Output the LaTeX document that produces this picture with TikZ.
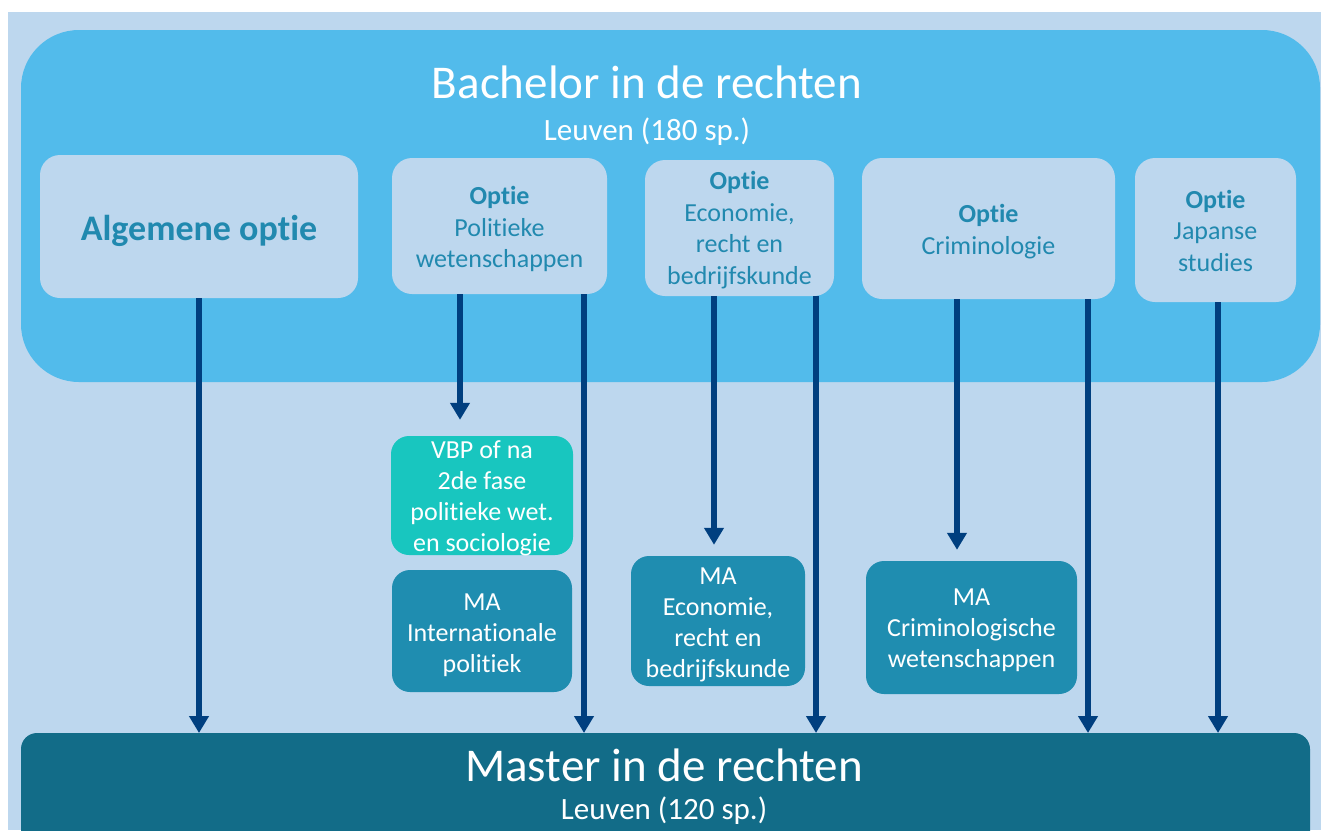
\documentclass[tikz,border=0pt]{standalone}
\usepackage{fontspec}
\setmainfont{Carlito}[Ligatures=NoCommon]
\usetikzlibrary{arrows.meta}
\definecolor{bgc}{HTML}{BDD7EE}
\definecolor{bach}{HTML}{52BBEB}
\definecolor{optfill}{HTML}{BDD7EE}
\definecolor{opttext}{HTML}{2189AF}
\definecolor{arrc}{HTML}{003F7F}
\definecolor{vbpc}{HTML}{18C6BF}
\definecolor{mac}{HTML}{1F8DB0}
\definecolor{masterc}{HTML}{126C88}
\begin{document}
\begin{tikzpicture}[x=1pt,y=-1pt,
  optbox/.style={fill=optfill, rounded corners=20pt, inner sep=0pt},
  opttxt/.style={text=opttext, align=center, inner sep=0pt, font=\fontsize{26}{31.5}\selectfont},
  mabox/.style={fill=mac, rounded corners=18pt, inner sep=0pt},
  matxt/.style={text=white, align=center, inner sep=0pt, font=\fontsize{26}{31}\selectfont},
  arr/.style={draw=arrc, line width=6.5pt, -{Triangle[width=19pt,length=17pt]}},
  title/.style={text=white, inner sep=0pt, font=\fontsize{47}{56}\selectfont},
  subtitle/.style={text=white, inner sep=0pt, font=\fontsize{31}{37}\selectfont},
]
\useasboundingbox (0,0) rectangle (1321,830);
\begin{scope}
\clip (0,0) rectangle (1321,830);
% background
\fill[bgc] (8,12) rectangle (1321,830);
% bachelor container
\fill[bach, rounded corners=58pt] (21,30) rectangle (1320,382);
\node[title] (bachtitle) at (647,82) {Bachelor in de rechten};
\node[subtitle] (bachsub) at (647,131.5) {Leuven (180 sp.)};
% master container
\fill[masterc, rounded corners=16pt] (21,733) rectangle (1310,870);
\coordinate (mtop) at (665,733);
\node[title] (mastitle) at (664,765) {Master in de rechten};
\node[subtitle] (massub) at (664,811) {Leuven (120 sp.)};
\end{scope}
% option boxes
\node[optbox, minimum width=318pt, minimum height=143pt] (alg) at (199,226.5) {};
\node[opttxt, font=\fontsize{36}{43}\selectfont\bfseries] (algtxt) at ([yshift=-4pt]alg.center) {Algemene optie};
\node[optbox, minimum width=215pt, minimum height=136pt] (pol) at (499.5,226) {};
\node[opttxt] (poltxt) at ([yshift=-3pt]pol.center) {\textbf{Optie}\\Politieke\\wetenschappen};
\node[optbox, minimum width=189pt, minimum height=136pt] (eco) at (739.5,228) {};
\node[opttxt] (ecotxt) at ([yshift=-2pt]eco.center) {\textbf{Optie}\\Economie,\\recht en\\bedrijfskunde};
\node[optbox, minimum width=253pt, minimum height=141pt] (crim) at (988.5,228.5) {};
\node[opttxt] (crimtxt) at ([yshift=-3pt]crim.center) {\textbf{Optie}\\Criminologie};
\node[optbox, minimum width=161pt, minimum height=144pt] (jap) at (1215.5,230) {};
\node[opttxt] (japtxt) at ([yshift=-0.5pt]jap.center) {\textbf{Optie}\\Japanse\\studies};
% lower boxes
\node[mabox, fill=vbpc, minimum width=182pt, minimum height=119pt] (vbp) at (482,495.5) {};
\node[matxt] (vbptxt) at ([yshift=-3pt]vbp.center) {VBP of na\\2de fase\\politieke wet.\\en sociologie};
\node[mabox, minimum width=180pt, minimum height=122pt] (maint) at (482,631) {};
\node[matxt] (mainttxt) at ([yshift=-4pt]maint.center) {MA\\Internationale\\politiek};
\node[mabox, minimum width=174pt, minimum height=130pt] (maeco) at (718,621) {};
\node[matxt] (maecotxt) at ([yshift=-4pt]maeco.center) {MA\\Economie,\\recht en\\bedrijfskunde};
\node[mabox, minimum width=211pt, minimum height=133pt] (macrim) at (971.5,627.5) {};
\node[matxt] (macrimtxt) at ([yshift=-3pt]macrim.center) {MA\\Criminologische\\wetenschappen};
% arrow columns
\coordinate (c1) at (199,0);
\coordinate (c2) at (460,0);
\coordinate (c3) at (584,0);
\coordinate (c4) at (714,0);
\coordinate (c5) at (816,0);
\coordinate (c6) at (957,0);
\coordinate (c7) at (1088,0);
\coordinate (c8) at (1218,0);
% arrows
\draw[arr] (alg.south -| c1) -- (mtop -| c1);
\draw[arr, shorten >=16pt] (pol.south -| c2) -- (vbp.north -| c2);
\draw[arr] (pol.south -| c3) -- (mtop -| c3);
\draw[arr, shorten >=11pt] (eco.south -| c4) -- (maeco.north -| c4);
\draw[arr] (eco.south -| c5) -- (mtop -| c5);
\draw[arr, shorten >=11pt] (crim.south -| c6) -- (macrim.north -| c6);
\draw[arr] (crim.south -| c7) -- (mtop -| c7);
\draw[arr] (jap.south -| c8) -- (mtop -| c8);
\end{tikzpicture}
\end{document}
